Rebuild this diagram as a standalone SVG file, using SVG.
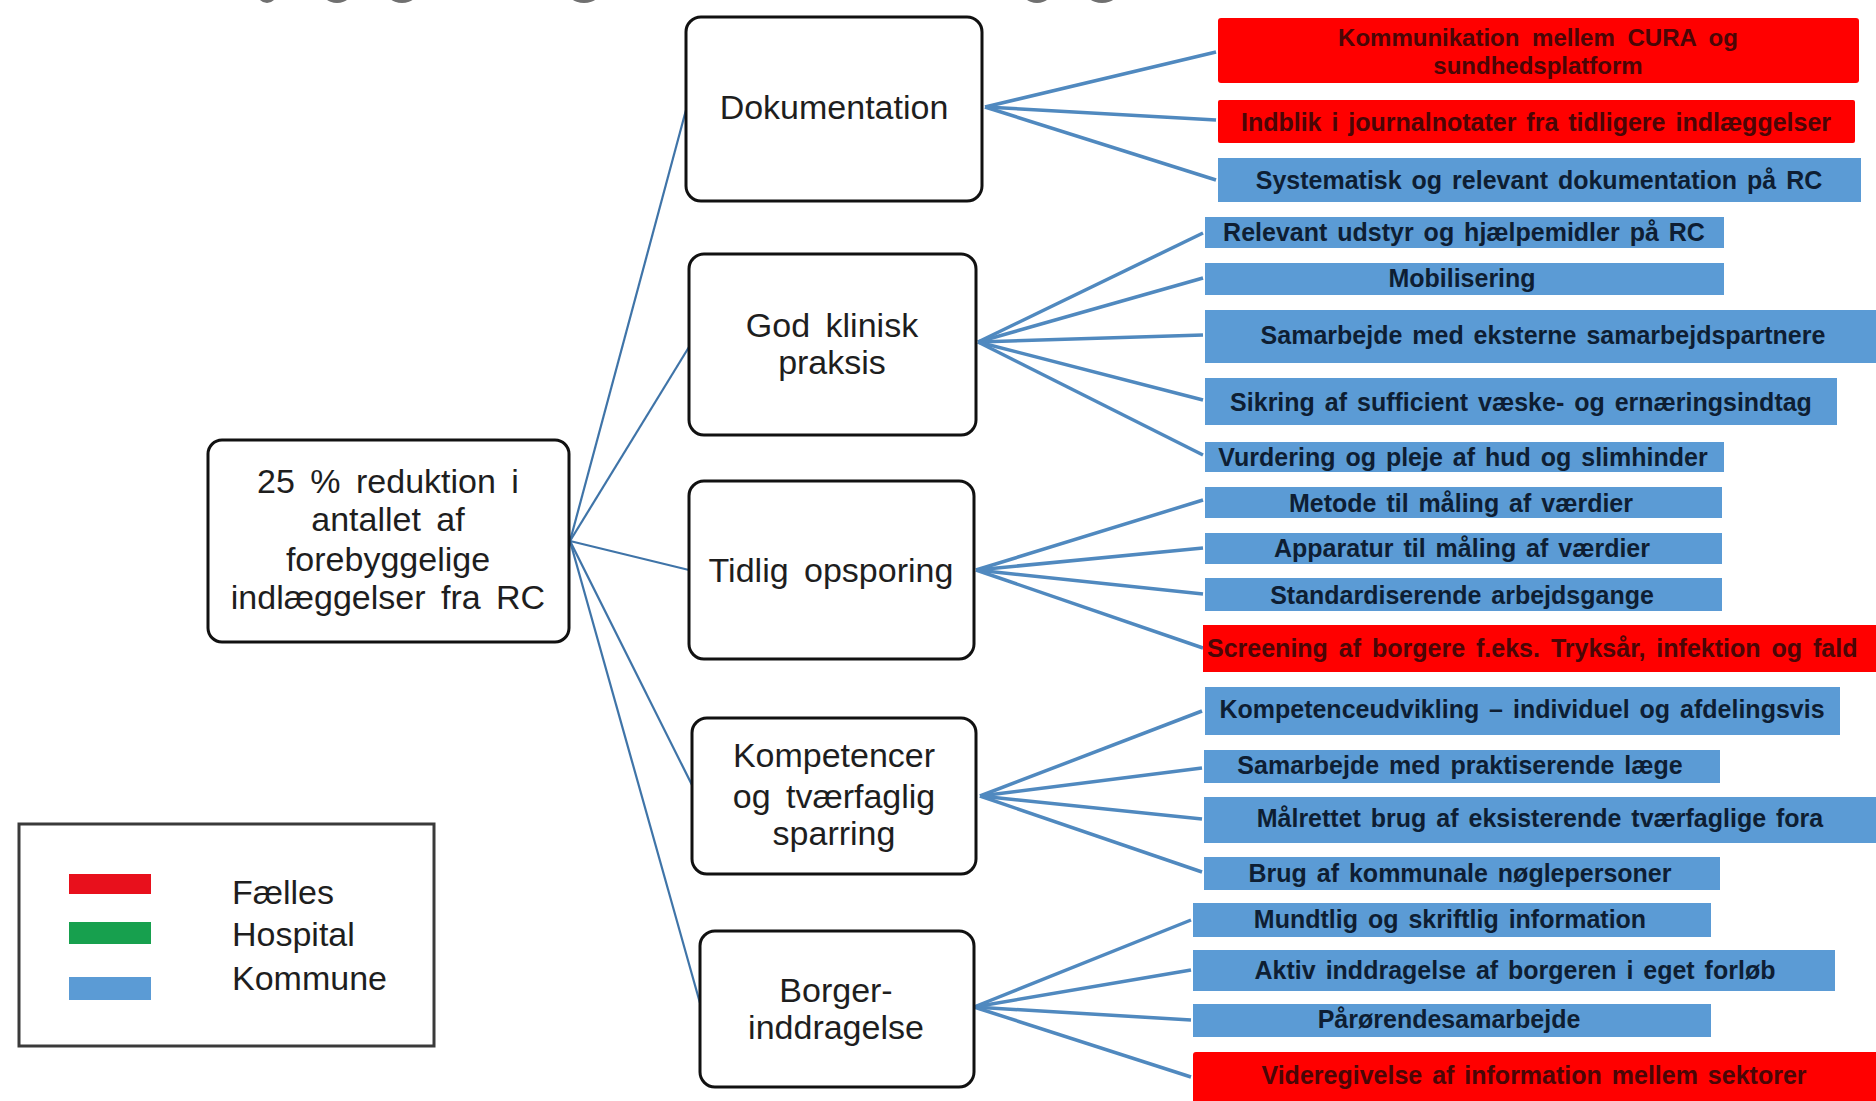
<svg xmlns="http://www.w3.org/2000/svg" width="1876" height="1101" viewBox="0 0 1876 1101">
<style>
.mid{fill:#ffffff;stroke:#111111;stroke-width:3}
.root{fill:#ffffff;stroke:#111111;stroke-width:3}
.lbl{font-family:"Liberation Sans",Arial,sans-serif;font-size:34px;fill:#1e1e1e;text-anchor:middle;word-spacing:6px}
.leg{font-family:"Liberation Sans",Arial,sans-serif;font-size:34px;fill:#1e1e1e}
.red{fill:#ff0000}
.blue{fill:#5b9bd5}
.lt{font-family:"Liberation Sans",Arial,sans-serif;font-size:25px;font-weight:bold;text-anchor:middle;word-spacing:3px}
.lt-b{fill:#0e1e33}
.lt-r{fill:#4a0606}
.c1{stroke:#3f74a8;stroke-width:2.2;fill:none}
.c2{stroke:#5089bf;stroke-width:3.5;fill:none}
.frag{fill:#707070}
</style>

<g id="title-fragments">
<ellipse class="frag" cx="267" cy="-13" rx="12" ry="16"/>
<ellipse class="frag" cx="337" cy="-13" rx="17" ry="16"/>
<ellipse class="frag" cx="402" cy="-13" rx="18" ry="16"/>
<ellipse class="frag" cx="584" cy="-13" rx="19" ry="16"/>
<ellipse class="frag" cx="1037" cy="-13" rx="17" ry="16"/>
<ellipse class="frag" cx="1102" cy="-13" rx="19" ry="16"/>
</g>

<g id="connectors">
<line class="c1" x1="570" y1="541" x2="686" y2="110"/>
<line class="c1" x1="570" y1="541" x2="689" y2="347"/>
<line class="c1" x1="570" y1="541" x2="689" y2="570"/>
<line class="c1" x1="570" y1="541" x2="692" y2="785"/>
<line class="c1" x1="570" y1="541" x2="700" y2="1003"/>

<line class="c2" x1="985" y1="107" x2="1216" y2="52"/>
<line class="c2" x1="985" y1="107" x2="1216" y2="120"/>
<line class="c2" x1="985" y1="107" x2="1216" y2="180"/>

<line class="c2" x1="978" y1="342" x2="1203" y2="233"/>
<line class="c2" x1="978" y1="342" x2="1203" y2="278"/>
<line class="c2" x1="978" y1="342" x2="1203" y2="335"/>
<line class="c2" x1="978" y1="342" x2="1203" y2="400"/>
<line class="c2" x1="978" y1="342" x2="1203" y2="455"/>

<line class="c2" x1="976" y1="570" x2="1203" y2="500"/>
<line class="c2" x1="976" y1="570" x2="1203" y2="548"/>
<line class="c2" x1="976" y1="570" x2="1203" y2="594"/>
<line class="c2" x1="976" y1="570" x2="1203" y2="648"/>

<line class="c2" x1="980" y1="796" x2="1202" y2="711"/>
<line class="c2" x1="980" y1="796" x2="1202" y2="768"/>
<line class="c2" x1="980" y1="796" x2="1202" y2="819"/>
<line class="c2" x1="980" y1="796" x2="1202" y2="872"/>

<line class="c2" x1="974" y1="1007" x2="1191" y2="920"/>
<line class="c2" x1="974" y1="1007" x2="1191" y2="970"/>
<line class="c2" x1="974" y1="1007" x2="1191" y2="1020"/>
<line class="c2" x1="974" y1="1007" x2="1191" y2="1077"/>
</g>

<g id="root">
<rect class="root" x="208" y="440" width="361" height="202" rx="14"/>
<text class="lbl" x="388" y="493">25 % reduktion i</text>
<text class="lbl" x="388" y="531">antallet af</text>
<text class="lbl" x="388" y="571">forebyggelige</text>
<text class="lbl" x="388" y="609">indlæggelser fra RC</text>
</g>

<g id="dokumentation">
<rect class="mid" x="686" y="17" width="296" height="184" rx="15"/>
<text class="lbl" x="834" y="119">Dokumentation</text>
</g>

<g id="god-klinisk-praksis">
<rect class="mid" x="689" y="254" width="287" height="181" rx="15"/>
<text class="lbl" x="832" y="337">God klinisk</text>
<text class="lbl" x="832" y="374">praksis</text>
</g>

<g id="tidlig-opsporing">
<rect class="mid" x="689" y="481" width="285" height="178" rx="15"/>
<text class="lbl" x="831" y="582">Tidlig opsporing</text>
</g>

<g id="kompetencer">
<rect class="mid" x="692" y="718" width="284" height="156" rx="15"/>
<text class="lbl" x="834" y="767">Kompetencer</text>
<text class="lbl" x="834" y="808">og tværfaglig</text>
<text class="lbl" x="834" y="845">sparring</text>
</g>

<g id="borgerinddragelse">
<rect class="mid" x="700" y="931" width="274" height="156" rx="15"/>
<text class="lbl" x="836" y="1002">Borger-</text>
<text class="lbl" x="836" y="1039">inddragelse</text>
</g>

<g id="leaf-kommunikation">
<rect class="red" x="1218" y="18" width="641" height="65" rx="3"/>
<text class="lt lt-r" x="1538" y="46" style="font-size:24px;word-spacing:6px">Kommunikation mellem CURA og</text>
<text class="lt lt-r" x="1538" y="74" style="font-size:24px">sundhedsplatform</text>
</g>
<g id="leaf-indblik">
<rect class="red" x="1218" y="100" width="637" height="43" rx="2"/>
<text class="lt lt-r" x="1536" y="131">Indblik i journalnotater fra tidligere indlæggelser</text>
</g>
<g id="leaf-systematisk">
<rect class="blue" x="1218" y="158" width="643" height="44"/>
<text class="lt lt-b" x="1539" y="189">Systematisk og relevant dokumentation på RC</text>
</g>
<g id="leaf-relevant-udstyr">
<rect class="blue" x="1205" y="217" width="519" height="31"/>
<text class="lt lt-b" x="1464" y="241">Relevant udstyr og hjælpemidler på RC</text>
</g>
<g id="leaf-mobilisering">
<rect class="blue" x="1205" y="263" width="519" height="32"/>
<text class="lt lt-b" x="1462" y="287">Mobilisering</text>
</g>
<g id="leaf-samarbejde-eksterne">
<rect class="blue" x="1205" y="310" width="676" height="53"/>
<text class="lt lt-b" x="1543" y="344">Samarbejde med eksterne samarbejdspartnere</text>
</g>
<g id="leaf-sikring">
<rect class="blue" x="1205" y="378" width="632" height="47"/>
<text class="lt lt-b" x="1521" y="411">Sikring af sufficient væske- og ernæringsindtag</text>
</g>
<g id="leaf-vurdering">
<rect class="blue" x="1205" y="442" width="519" height="30"/>
<text class="lt lt-b" x="1463" y="466">Vurdering og pleje af hud og slimhinder</text>
</g>
<g id="leaf-metode">
<rect class="blue" x="1205" y="487" width="517" height="31"/>
<text class="lt lt-b" x="1461" y="512">Metode til måling af værdier</text>
</g>
<g id="leaf-apparatur">
<rect class="blue" x="1205" y="533" width="517" height="31"/>
<text class="lt lt-b" x="1462" y="557">Apparatur til måling af værdier</text>
</g>
<g id="leaf-standardiserende">
<rect class="blue" x="1205" y="578" width="517" height="33"/>
<text class="lt lt-b" x="1462" y="604">Standardiserende arbejdsgange</text>
</g>
<g id="leaf-screening">
<rect class="red" x="1203" y="625" width="680" height="47"/>
<text class="lt lt-r" x="1207" y="657" style="text-anchor:start;word-spacing:4px">Screening af borgere f.eks. Tryksår, infektion og fald</text>
</g>
<g id="leaf-kompetenceudvikling">
<rect class="blue" x="1205" y="687" width="635" height="48"/>
<text class="lt lt-b" x="1522" y="718">Kompetenceudvikling – individuel og afdelingsvis</text>
</g>
<g id="leaf-praktiserende">
<rect class="blue" x="1204" y="750" width="516" height="33"/>
<text class="lt lt-b" x="1460" y="774">Samarbejde med praktiserende læge</text>
</g>
<g id="leaf-maalrettet">
<rect class="blue" x="1204" y="797" width="677" height="46"/>
<text class="lt lt-b" x="1540" y="827">Målrettet brug af eksisterende tværfaglige fora</text>
</g>
<g id="leaf-noeglepersoner">
<rect class="blue" x="1204" y="857" width="516" height="33"/>
<text class="lt lt-b" x="1460" y="882">Brug af kommunale nøglepersoner</text>
</g>
<g id="leaf-mundtlig">
<rect class="blue" x="1193" y="903" width="518" height="34"/>
<text class="lt lt-b" x="1450" y="928">Mundtlig og skriftlig information</text>
</g>
<g id="leaf-aktiv">
<rect class="blue" x="1193" y="950" width="642" height="41"/>
<text class="lt lt-b" x="1515" y="979">Aktiv inddragelse af borgeren i eget forløb</text>
</g>
<g id="leaf-paaroerende">
<rect class="blue" x="1193" y="1004" width="518" height="33"/>
<text class="lt lt-b" x="1449" y="1028">Pårørendesamarbejde</text>
</g>
<g id="leaf-videregivelse">
<rect class="red" x="1193" y="1052" width="686" height="52" rx="3"/>
<text class="lt lt-r" x="1534" y="1084">Videregivelse af information mellem sektorer</text>
</g>

<g id="legend">
<rect x="19" y="824" width="415" height="222" fill="#ffffff" stroke="#3a3a3a" stroke-width="3"/>
<rect x="69" y="874" width="82" height="20" fill="#e8101c"/>
<rect x="69" y="922" width="82" height="22" fill="#17a04e"/>
<rect x="69" y="977" width="82" height="23" fill="#5b9bd5"/>
<text class="leg" x="232" y="904">Fælles</text>
<text class="leg" x="232" y="946">Hospital</text>
<text class="leg" x="232" y="990">Kommune</text>
</g>
</svg>
